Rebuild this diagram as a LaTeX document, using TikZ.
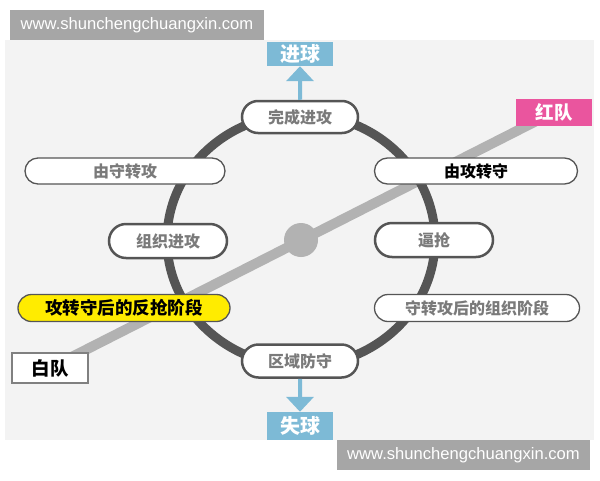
\documentclass[tikz,border=0pt]{standalone}
\usepackage{fontspec}
\setmainfont{Liberation Sans}
\newfontfamily\cjk{Noto Sans CJK SC}
\usetikzlibrary{shapes,arrows.meta,backgrounds}
\definecolor{panelgray}{HTML}{F3F3F3}
\definecolor{ringgray}{HTML}{555555}
\definecolor{linegray}{HTML}{B2B2B2}
\definecolor{textgray}{HTML}{7A7A7A}
\definecolor{goalblue}{HTML}{7DBAD6}
\definecolor{teampink}{HTML}{EA559E}
\definecolor{markyellow}{HTML}{FFEC00}
\definecolor{wmgray}{HTML}{A6A6A6}
\tikzset{%
  phase/.style={%
    rounded rectangle,%
    draw=ringgray,%
    line width=2.5pt,%
    fill=white,%
    inner sep=0pt,%
    text=textgray,%
    font=\cjk\bfseries\fontsize{16}{16}\selectfont},
  thin phase/.style={%
    phase,%
    line width=1.3pt},
  outcome/.style={%
    rectangle,%
    fill=goalblue,%
    inner sep=0pt,%
    minimum width=66pt,%
    text=white,%
    font=\cjk\bfseries\fontsize{20}{20}\selectfont},
  team/.style={%
    rectangle,%
    inner sep=0pt,%
    minimum width=76pt,%
    font=\cjk\bfseries\fontsize{18.5}{18.5}\selectfont},
  goalarrow/.style={%
    draw=goalblue,%
    line width=4pt,%
    -{Triangle[width=27pt,length=15pt]}},
  watermark/.style={%
    rectangle,%
    fill=wmgray,%
    inner sep=0pt,%
    minimum height=30pt,%
    text=white,%
    font=\fontsize{16.6}{16.6}\selectfont}
}

\begin{document}
\begin{tikzpicture}[x=1pt,y=-1pt]
  \useasboundingbox (0,0) rectangle (600,480);
  % phases round the ring
  \node [phase,minimum width=116pt,minimum height=32pt] (done) at (300,117) {完成进攻};
  \node [thin phase,minimum width=200pt,minimum height=26pt] (d2a) at (125,171) {由守转攻};
  \node [thin phase,minimum width=203pt,minimum height=26pt,text=black] (a2d) at (476,171) {由攻转守};
  \node [phase,minimum width=118pt,minimum height=34pt] (build) at (168,241) {组织进攻};
  \node [phase,minimum width=118pt,minimum height=34pt] (press) at (434,240) {逼抢};
  \node [thin phase,minimum width=212pt,minimum height=27pt,fill=markyellow,text=black,
    font=\cjk\bfseries\fontsize{17.5}{17.5}\selectfont] (counter) at (124,308) {攻转守后的反抢阶段};
  \node [thin phase,minimum width=205pt,minimum height=27pt] (organize) at (477,308) {守转攻后的组织阶段};
  \node [phase,minimum width=116pt,minimum height=33pt] (zone) at (300,361) {区域防守};
  % goals
  \node [outcome,minimum height=24pt] (scored) at (300,54) {进球};
  \node [outcome,minimum height=28pt] (conceded) at (300,426) {失球};
  % teams
  \node [team,minimum height=30pt,draw=gray,line width=1.3pt,fill=white] (white) at (50,368) {白队};
  \node [team,minimum height=27pt,fill=teampink,text=white] (red) at (554,112) {红队};
  \node [circle,fill=linegray,minimum size=34pt,inner sep=0pt] (hub) at (301,240) {};
  \draw [goalarrow] (done) -- (scored);
  \draw [goalarrow] (zone) -- (conceded);
  \begin{scope}[on background layer]
    \fill [panelgray] (5,40) rectangle (594,440);
    \draw [linegray,line width=10pt] (white.center) -- (red.center);
    \draw [ringgray,line width=9pt] (hub) ellipse [x radius=134,y radius=126];
  \end{scope}
  \node [watermark,minimum width=254pt] (wmtop) at (137,25) {www.shunchengchuangxin.com};
  \node [watermark,minimum width=253pt] (wmbottom) at (463.5,455) {www.shunchengchuangxin.com};
\end{tikzpicture}
\end{document}
